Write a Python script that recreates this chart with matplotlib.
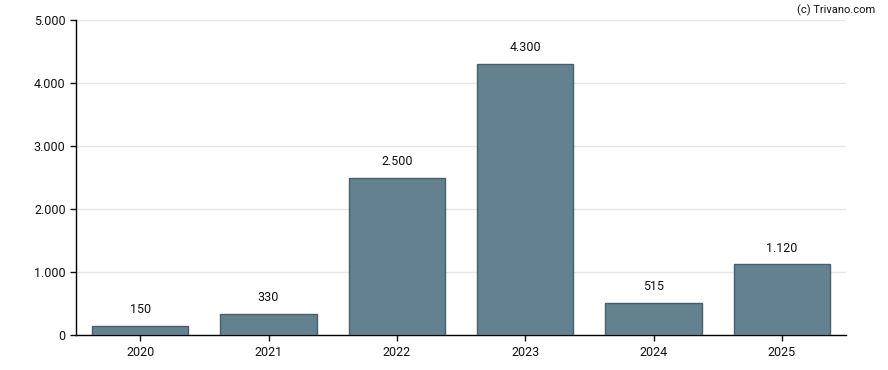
import matplotlib
matplotlib.use("Agg")
import matplotlib.pyplot as plt
from matplotlib.ticker import FuncFormatter

plt.rcParams['font.family'] = ['Roboto', 'DejaVu Sans']

years = ["2020", "2021", "2022", "2023", "2024", "2025"]
values = [150, 330, 2500, 4300, 515, 1120]
yticks = [0, 1000, 2000, 3000, 4000, 5000]


def fmt(v):
    # thousands separated by a dot
    return "{:,.0f}".format(v).replace(",", ".")


fig = plt.figure(figsize=(8.88, 3.70), dpi=100)
ax = fig.add_axes([0.0856, 0.0946, 0.8671, 0.8513])

x = list(range(len(years)))
ax.bar(x, values, width=0.75, color="#64818f", edgecolor="#46606e", linewidth=1, zorder=3)

for xi, v in zip(x, values):
    ax.annotate(fmt(v), (xi, v), xytext=(0, 7), textcoords="offset points",
                ha="center", va="bottom", fontsize=9, color="#111111")

ax.set_xlim(-0.5, len(years) - 0.5)
ax.set_ylim(0, 5000)
ax.set_xticks(x)
ax.set_xticklabels(years)
ax.set_yticks(yticks)
ax.yaxis.set_major_formatter(FuncFormatter(lambda v, p: fmt(v)))
ax.tick_params(axis="both", labelsize=9, colors="#111111", length=4, width=1)
ax.tick_params(axis="x", pad=4)

ax.grid(axis="y", color="#e6e6e6", linewidth=1, zorder=0)
for s in ["top", "right"]:
    ax.spines[s].set_visible(False)
for s in ["left", "bottom"]:
    ax.spines[s].set_color("black")
    ax.spines[s].set_linewidth(1)

fig.text(0.986, 0.988, "(c) Trivano.com", ha="right", va="top", fontsize=8, color="#111111")

fig.savefig("out.png", dpi=100)
